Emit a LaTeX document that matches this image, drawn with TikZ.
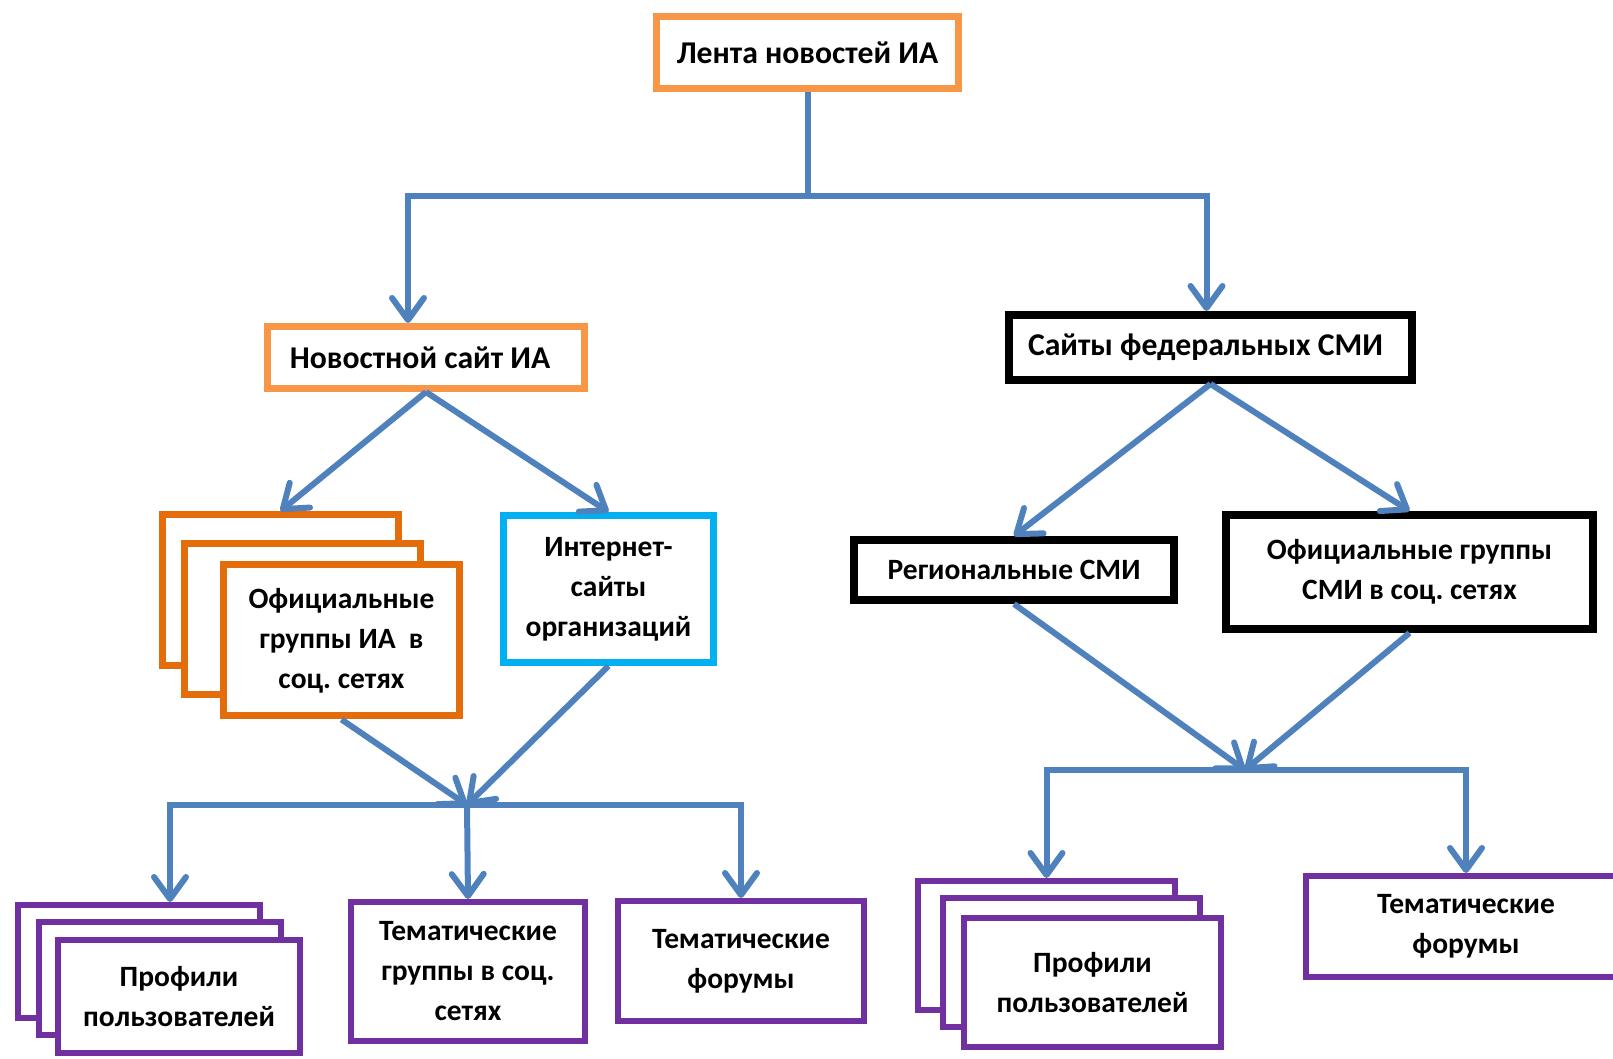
\documentclass[tikz,border=0pt]{standalone}
\usepackage{fontspec}
\setmainfont{Carlito}
\frenchspacing
\usetikzlibrary{positioning,arrows.meta}
\definecolor{lightorange}{HTML}{F79646}
\definecolor{darkorange}{HTML}{E46C0A}
\definecolor{skyblue}{HTML}{00B0F0}
\definecolor{linkblue}{HTML}{4F81BD}
\definecolor{groupviolet}{HTML}{7030A0}
\tikzset{->,
>={Straight Barb[length=22pt,width=32pt,round]}, on grid, % open arrow heads, node distances measured centre to centre
every node/.style={font=\fontsize{29.5}{40}\selectfont\bfseries,align=center,inner sep=0pt,fill=white},
bigtext/.style={font=\fontsize{31.7}{40}\selectfont\bfseries},
link/.style={draw=linkblue,line width=6pt},
iabox/.style={draw=lightorange,line width=7pt,bigtext},
stackbox/.style={draw=darkorange,line width=7pt,minimum width=236pt,minimum height=151pt},
sitebox/.style={draw=skyblue,line width=7pt},
smibox/.style={draw=black,line width=8pt},
userbox/.style={draw=groupviolet,line width=6pt}, % sets the look of the lowest level
}

\begin{document}
\begin{tikzpicture}[x=1pt,y=1pt]
    \useasboundingbox (0,0) rectangle (1613,1059);
    \node[iabox,minimum width=302pt,minimum height=72pt] (Lenta) at (807.5,1006) {Лента новостей ИА};
    \node[iabox,minimum width=317pt,minimum height=62pt,below left=304.5pt and 381.5pt of Lenta] (NewsSite) {Новостной сайт ИА\hspace*{12pt}};
    \node[smibox,bigtext,minimum width=403pt,minimum height=65pt,below right=294.5pt and 403pt of Lenta] (FedSMI) {Сайты федеральных СМИ\hspace*{10pt}};

    \node[stackbox,below left=232.5pt and 145.5pt of NewsSite] (OffIA1) {};
    \node[stackbox,below right=29.5pt and 22pt of OffIA1] (OffIA2) {};
    \node[stackbox,below right=21pt and 39pt of OffIA2] (OffIA3) {Официальные\\группы ИА\ \ в\\соц. сетях};
    \node[sitebox,minimum width=210pt,minimum height=147pt,below right=231.5pt and 182.5pt of NewsSite] (OrgSites) {Интернет-\\сайты\\организаций};
    \node[smibox,minimum width=320pt,minimum height=60pt,below left=222.5pt and 196.5pt of FedSMI] (RegSMI) {Региональные СМИ};
    \node[smibox,minimum width=367pt,minimum height=114pt,below right=224.5pt and 199pt of FedSMI] (OffSMI) {Официальные группы\\СМИ в соц. сетях};

    % left bottom row
    \node[userbox,minimum width=242pt,minimum height=113pt,below left=371.5pt and 141.5pt of OffIA1] (Prof1) {};
    \node[userbox,minimum width=242pt,minimum height=113pt,below right=17pt and 21pt of Prof1] (Prof2) {};
    \node[userbox,minimum width=242pt,minimum height=113pt,below right=18pt and 19pt of Prof2] (Prof3) {Профили\\пользователей};
    \node[userbox,minimum width=234pt,minimum height=139pt,below right=331pt and 126.5pt of OffIA3] (ThemGroups) {Тематические\\группы в соц.\\сетях};
    \node[userbox,minimum width=246pt,minimum height=120pt,below right=372pt and 132.5pt of OrgSites] (ThemForum1) {Тематические\\форумы};

    % right bottom row
    \node[userbox,minimum width=257pt,minimum height=129pt,below right=375.5pt and 32.5pt of RegSMI] (RProf1) {};
    \node[userbox,minimum width=257pt,minimum height=129pt,below right=17pt and 24.5pt of RProf1] (RProf2) {};
    \node[userbox,minimum width=257pt,minimum height=129pt,below right=20pt and 21.5pt of RProf2] (RProf3) {Профили\\пользователей};
    \node[userbox,minimum width=320pt,minimum height=101pt,below right=354.5pt and 56.5pt of OffSMI] (ThemForum2) {Тематические\\форумы};

    \coordinate[below right=164.5pt and 125.5pt of OffIA3] (ForkLeft);
    \coordinate[below right=200pt and 231pt of RegSMI] (ForkRight);

    \draw[link,-] (Lenta.south) -- ++(0,-104) coordinate (ForkTop);
    \draw[link] (ForkTop) -| ([xshift=-18pt]NewsSite.north);
    \draw[link] (ForkTop) -| ([xshift=-4pt]FedSMI.north);

    \draw[link,-] (NewsSite.south) edge[->] (OffIA1.north)
          (NewsSite.south) edge[->] (OrgSites.north)
          (FedSMI.south) edge[->] (RegSMI.north)
          (FedSMI.south) edge[->] (OffSMI.north)
          (OffIA3.south) edge[->] (ForkLeft)
          (OrgSites.south) edge[->] (ForkLeft)
          (RegSMI.south) edge[->] (ForkRight)
          (OffSMI.south) edge[->] (ForkRight)
          (ForkLeft) edge[->] (ThemGroups.north);

    \draw[link] (ForkLeft) -| ([xshift=31pt]Prof1.north);
    \draw[link] (ForkLeft) -| (ThemForum1.north);
    \draw[link] (ForkRight) -| (RProf1.north);
    \draw[link] (ForkRight) -| (ThemForum2.north);
\end{tikzpicture}
\end{document}
